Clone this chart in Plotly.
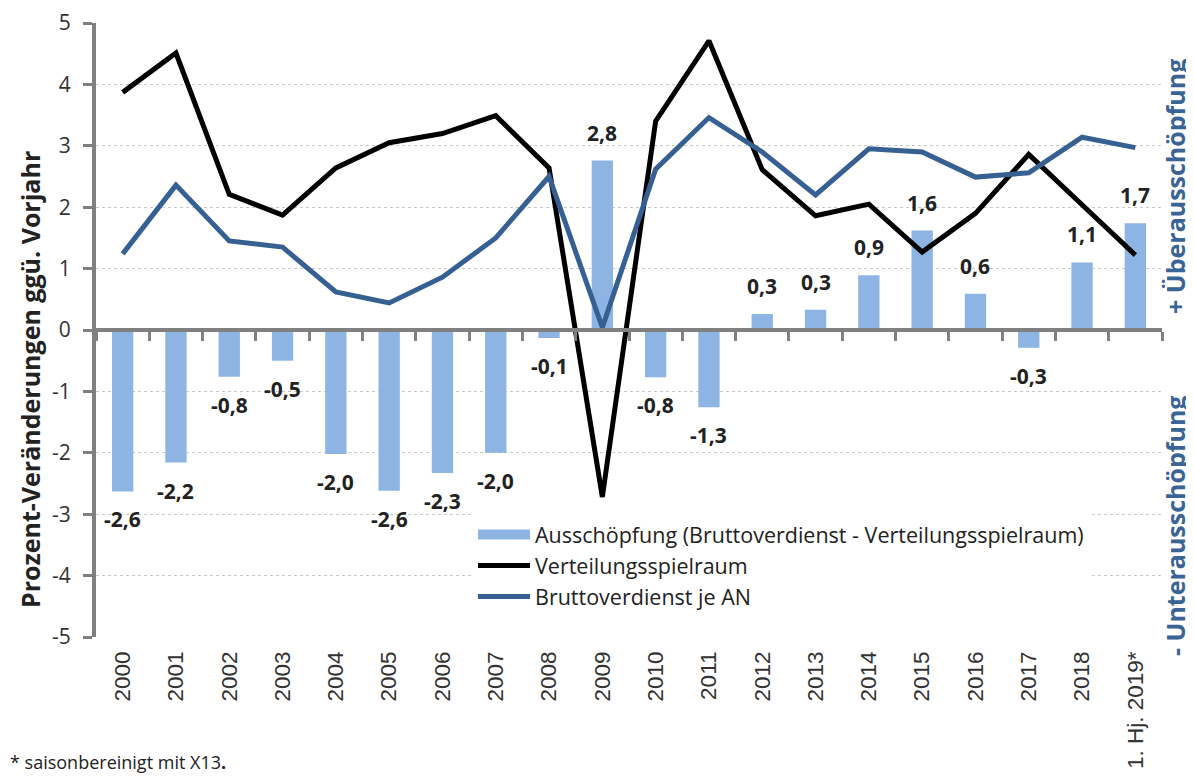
import plotly.graph_objects as go

categories = ["2000", "2001", "2002", "2003", "2004", "2005", "2006", "2007", "2008", "2009",
              "2010", "2011", "2012", "2013", "2014", "2015", "2016", "2017", "2018", "1. Hj. 2019*"]
ausschoepfung = [-2.63, -2.16, -0.76, -0.50, -2.02, -2.62, -2.33, -2.00, -0.13, 2.76,
                 -0.77, -1.26, 0.26, 0.33, 0.89, 1.62, 0.59, -0.29, 1.10, 1.74]
verteilungsspielraum = [3.87, 4.51, 2.21, 1.87, 2.64, 3.05, 3.20, 3.49, 2.64, -2.72,
                        3.40, 4.71, 2.61, 1.86, 2.05, 1.27, 1.90, 2.86, 2.04, 1.22]
bruttoverdienst = [1.24, 2.36, 1.45, 1.35, 0.62, 0.44, 0.86, 1.50, 2.50, 0.04,
                   2.62, 3.46, 2.90, 2.20, 2.95, 2.90, 2.49, 2.56, 3.14, 2.97]
y_ticks = [5, 4, 3, 2, 1, 0, -1, -2, -3, -4, -5]

FONT = "Open Sans"
XFONT = "Liberation Sans, Arial"
BAR_COLOR = "#8DB4E2"
BLUE = "#376092"
AXIS_GREY = "#808080"

fig = go.Figure()
fig.add_trace(go.Bar(
    x=categories, y=ausschoepfung, name="Ausschöpfung (Bruttoverdienst - Verteilungsspielraum)",
    marker=dict(color=BAR_COLOR, line=dict(width=0)), width=0.4, xaxis="x", yaxis="y",
    showlegend=False,
))
# legend entry for bars (wide swatch like the reference)
fig.add_trace(go.Scatter(
    x=[None], y=[None], name="Ausschöpfung (Bruttoverdienst - Verteilungsspielraum)",
    mode="lines", line=dict(color=BAR_COLOR, width=14), xaxis="x2", yaxis="y",
))
fig.add_trace(go.Scatter(
    x=categories, y=verteilungsspielraum, name="Verteilungsspielraum", mode="lines",
    line=dict(color="#000000", width=5), xaxis="x2", yaxis="y",
))
fig.add_trace(go.Scatter(
    x=categories, y=bruttoverdienst, name="Bruttoverdienst je AN", mode="lines",
    line=dict(color=BLUE, width=5), xaxis="x2", yaxis="y",
))

# value labels
for i, v in enumerate(ausschoepfung):
    txt = f"{v:.1f}".replace(".", ",")
    fig.add_annotation(
        x=i, y=v, xref="x", yref="y", text=f"<b>{txt}</b>", showarrow=False,
        yanchor="bottom" if v >= 0 else "top", yshift=12 if v >= 0 else -12,
        font=dict(family=FONT, size=21, color="#222222"),
    )

# pixel layout (page coordinates; page is offset ~8px by body margin)
W, H = 1194, 782
L, T = 88, 15
PW, PH = 1066, 614
R, B = W - L - PW, H - T - PH

def px(xp):
    return (xp - 8 - L) / PW

def py(yp):
    return (T + PH - (yp - 8)) / PH

fig.add_annotation(
    x=px(30), y=py(380), xref="paper", yref="paper", text="<b>Prozent-Veränderungen ggü. Vorjahr</b>",
    showarrow=False, textangle=-90, xanchor="center", yanchor="middle",
    font=dict(family=FONT, size=25, color="#222222"),
)
fig.add_annotation(
    text="<b>+ Überausschöpfung</b>", showarrow=False, textangle=-90,
    xref="paper", yref="paper", x=px(1175), y=py(187), xanchor="center", yanchor="middle",
    font=dict(family=FONT, size=25, color="#3A6496"),
)
fig.add_annotation(
    text="<b>- Unterausschöpfung</b>", showarrow=False, textangle=-90,
    xref="paper", yref="paper", x=px(1175), y=py(526), xanchor="center", yanchor="middle",
    font=dict(family=FONT, size=25, color="#3A6496"),
)
fig.add_annotation(
    text="* saisonbereinigt mit X13<b>.</b>", showarrow=False,
    xref="paper", yref="paper", x=px(8), y=py(762), xanchor="left", yanchor="middle",
    font=dict(family=FONT, size=18, color="#222222"),
)

fig.update_layout(
    width=W, height=H, margin=dict(l=L, r=R, t=T, b=B, autoexpand=False),
    paper_bgcolor="white", plot_bgcolor="white",
    font=dict(family=FONT, size=20, color="#333333"),
    separators=",.",
    showlegend=True,
    legend=dict(
        x=px(473), y=py(514), xanchor="left", yanchor="top",
        bgcolor="white", font=dict(family=FONT, size=21.5, color="#222222"),
        itemwidth=52, traceorder="normal",
    ),
    xaxis=dict(
        type="category", categoryorder="array", categoryarray=categories,
        range=[-0.5, len(categories) - 0.5],
        showline=False, ticks="", showgrid=False, zeroline=False,
        tickangle=-90, tickfont=dict(family=XFONT, size=22.5, color="#333333"),
        ticklabelstandoff=9,
    ),
    xaxis2=dict(
        type="category", categoryorder="array", categoryarray=categories,
        range=[-0.5, len(categories) - 0.5],
        overlaying="x", anchor="free", position=0.5,
        showline=True, linecolor=AXIS_GREY, linewidth=4,
        ticks="outside", tickson="boundaries", ticklen=9, tickwidth=3, tickcolor=AXIS_GREY,
        showticklabels=False, showgrid=False, zeroline=False,
    ),
    yaxis=dict(
        range=[-5, 5], tickvals=y_ticks, ticktext=[str(t) for t in y_ticks],
        showline=True, linecolor=AXIS_GREY, linewidth=4,
        ticks="outside", ticklen=9, tickwidth=3, tickcolor=AXIS_GREY,
        showgrid=True, gridcolor="#C8C8C8", gridwidth=1, griddash="dot",
        zeroline=False, tickfont=dict(family=FONT, size=21, color="#333333"),
        ticklabelstandoff=8,
    ),
)

fig.write_html("out.html")
